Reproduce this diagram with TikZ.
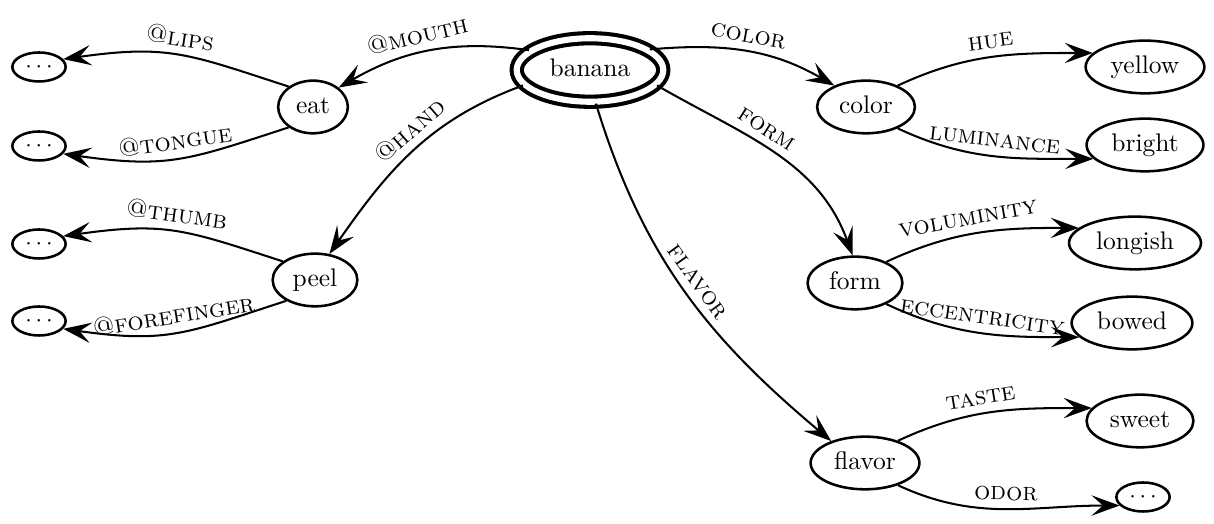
\documentclass[tikz,border=0pt]{standalone}
\usepackage{tikz}
\usetikzlibrary{shapes.geometric,arrows.meta}
\newcommand{\etc}{$\cdots$}

\begin{document}
\begin{tikzpicture}[x=1.3793mm,y=1.3793mm,
  concept/.style={draw,ellipse,line width=1pt,inner sep=3pt,text height=1.6ex,text depth=.4ex},
  root/.style={concept,double,line width=1.6pt,double distance=2.4pt,inner sep=4.5pt},
  more/.style={draw,ellipse,line width=1pt,inner sep=2pt,font=\small},
  rel/.style={thick,-{Stealth[length=11pt,width=8pt,inset=4.5pt]}},
  lbl/.style={sloped,above,font=\scshape,inner sep=3pt}]
  \useasboundingbox (0,0) rectangle (121.4,52.4);

  \node[root]    (banana)  at (59,45.4)    {banana};
  \node[concept] (eat)     at (31.3,41.7)  {eat};
  \node[concept] (peel)    at (31.5,24.4)  {peel};
  \node[concept] (color)   at (86.6,41.7)  {color};
  \node[concept] (form)    at (85.5,24.1)  {form};
  \node[concept] (flavor)  at (86.5,6.1)   {flavor};
  \node[concept] (yellow)  at (114.5,45.7) {yellow};
  \node[concept] (bright)  at (114.5,37.9) {bright};
  \node[concept] (longish) at (113.5,28.1) {longish};
  \node[concept] (bowed)   at (113.2,20.1) {bowed};
  \node[concept] (sweet)   at (114,10.3)   {sweet};
  % open ends
  \node[more] (lips)   at (3.9,45.7)  {\etc};
  \node[more] (tongue) at (3.9,37.8)  {\etc};
  \node[more] (thumb)  at (3.9,28)    {\etc};
  \node[more] (finger) at (3.9,20.3)  {\etc};
  \node[more] (odor)   at (114.3,2.7) {\etc};

  \draw[rel] (banana.162) to[out=172,in=30] node[lbl,pos=.55] {@mouth} (eat.37);
  \draw[rel] (banana.193) to[out=200,in=55] node[lbl,pos=.45] {@hand} (peel.61);
  \draw[rel] (banana.19) to[out=5,in=150] node[lbl] {color} (color.146);
  \draw[rel] (banana.-13) to[out=-30,in=110] node[lbl,pos=.42] {form} (form.95);
  \draw[rel] (banana.-80) to[out=-73,in=140] node[lbl] {flavor} (flavor.147);

  \draw[rel] (eat.140) to[out=162,in=8,looseness=1.2] node[lbl] {@lips} (lips.18);
  \draw[rel] (eat.220) to[out=198,in=-8,looseness=1.2] node[lbl] {@tongue} (tongue.-18);
  \draw[rel] (peel.150) to[out=162,in=8,looseness=1.2] node[lbl] {@thumb} (thumb.18);
  \draw[rel] (peel.216) to[out=198,in=-8,looseness=1.2] node[lbl] {@forefinger} (finger.-18);

  \draw[rel] (color.34) to[out=25,in=180] node[lbl] {hue} (yellow.165);
  \draw[rel] (color.-34) to[out=-25,in=180] node[lbl] {luminance} (bright.195);
  \draw[rel] (form.34) to[out=25,in=180] node[lbl,pos=.45] {voluminity} (longish.165);
  \draw[rel] (form.-34) to[out=-25,in=180] node[lbl] {eccentricity} (bowed.195);
  \draw[rel] (flavor.34) to[out=25,in=180] node[lbl,pos=.45] {taste} (sweet.165);
  \draw[rel] (flavor.-34) to[out=-25,in=180] node[lbl] {odor} (odor.200);
\end{tikzpicture}
\end{document}
